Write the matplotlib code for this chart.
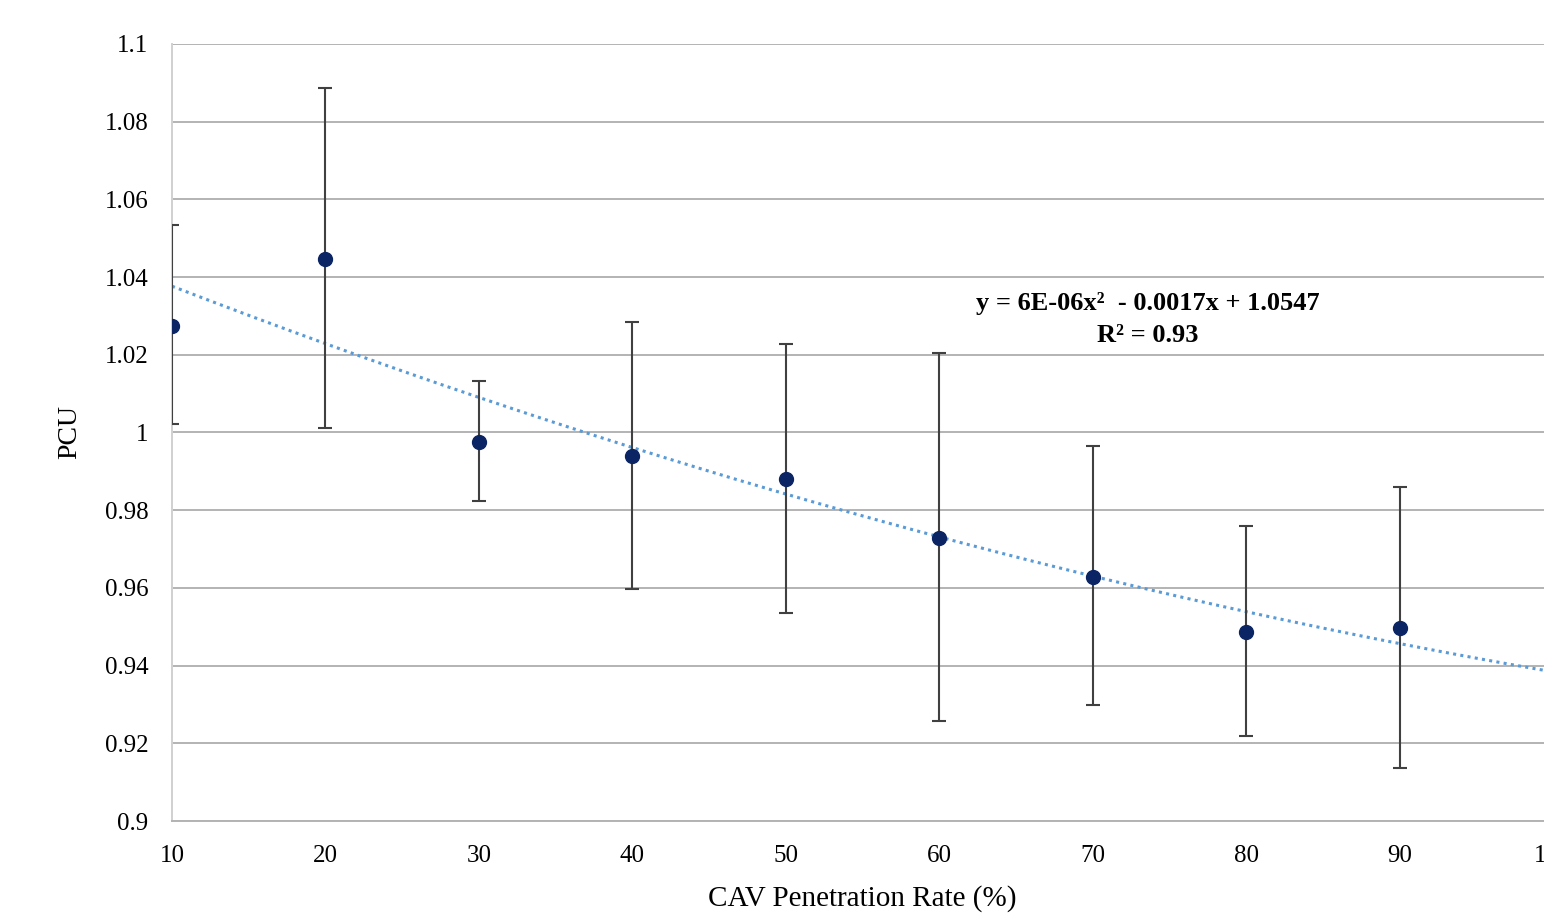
import numpy as np
import matplotlib
matplotlib.use('Agg')
from matplotlib import pyplot as plt

# Data
penetration = [10, 20, 30, 40, 50, 60, 70, 80, 90]
pcu_mean = [1.0274, 1.0447, 0.9976, 0.9940, 0.9880, 0.9728, 0.9628, 0.9486, 0.9497]
pcu_upper = [1.0534, 1.0887, 1.0133, 1.0284, 1.0228, 1.0205, 0.9965, 0.9759, 0.9860]
pcu_lower = [1.0022, 1.0012, 0.9824, 0.9597, 0.9535, 0.9257, 0.9299, 0.9219, 0.9136]
x_ticks = [10, 20, 30, 40, 50, 60, 70, 80, 90, 100]
y_ticks = [0.9, 0.92, 0.94, 0.96, 0.98, 1.0, 1.02, 1.04, 1.06, 1.08, 1.1]
y_tick_labels = ['0.9', '0.92', '0.94', '0.96', '0.98', '1', '1.02', '1.04', '1.06', '1.08', '1.1']
equation_text = 'y = 6E-06x\u00b2  - 0.0017x + 1.0547\nR\u00b2 = 0.93'

plt.rcParams['font.family'] = ['Liberation Serif', 'DejaVu Serif']

NAVY = '#0B2463'
TREND = '#5B9BD5'

fig = plt.figure(figsize=(15.44, 9.16), dpi=100)
# right edge of the plot runs past the picture, as in the original screenshot
ax = fig.add_axes([172 / 1544, 1 - 821 / 916, (1553 - 172) / 1544, (821 - 44) / 916])

x = np.array(penetration)
y = np.array(pcu_mean)
yerr = [y - np.array(pcu_lower), np.array(pcu_upper) - y]

# second order polynomial trendline, fitted like the spreadsheet does it
coef = np.polyfit(x, y, 2)
xs = np.linspace(10, 100, 300)
ax.plot(xs, np.polyval(coef, xs), color=TREND, lw=2.2,
        linestyle=(0, (1, 1.4)), zorder=3)

ax.errorbar(x, y, yerr=yerr, fmt='none', ecolor='#404040', elinewidth=1.5,
            capsize=5, capthick=1.5, zorder=4)
ax.plot(x, y, 'o', color=NAVY, markersize=10, zorder=5)

ax.text(73.6, 1.0292, equation_text, ha='center', va='center',
        fontsize=19, fontweight='bold', linespacing=1.5, zorder=6)

ax.set_xlim(10, 100)
ax.set_ylim(0.9, 1.1)
ax.set_xticks(x_ticks)
ax.set_yticks(y_ticks)
ax.set_yticklabels(y_tick_labels)
ax.tick_params(axis='both', length=0, labelsize=18, pad=17)

ax.grid(axis='y', color='#B3B3B3', lw=1.4)
ax.set_axisbelow(True)
for side in ['top', 'right']:
    ax.spines[side].set_visible(False)
ax.spines['left'].set_color('#D0D0D0')
ax.spines['left'].set_linewidth(1.4)
ax.spines['bottom'].set_color('#B3B3B3')
ax.spines['bottom'].set_linewidth(1.4)

ax.set_xlabel('CAV Penetration Rate (%)', fontsize=21, labelpad=13)
ax.set_ylabel('PCU', fontsize=20, labelpad=16)

fig.savefig('out.png', dpi=100)
